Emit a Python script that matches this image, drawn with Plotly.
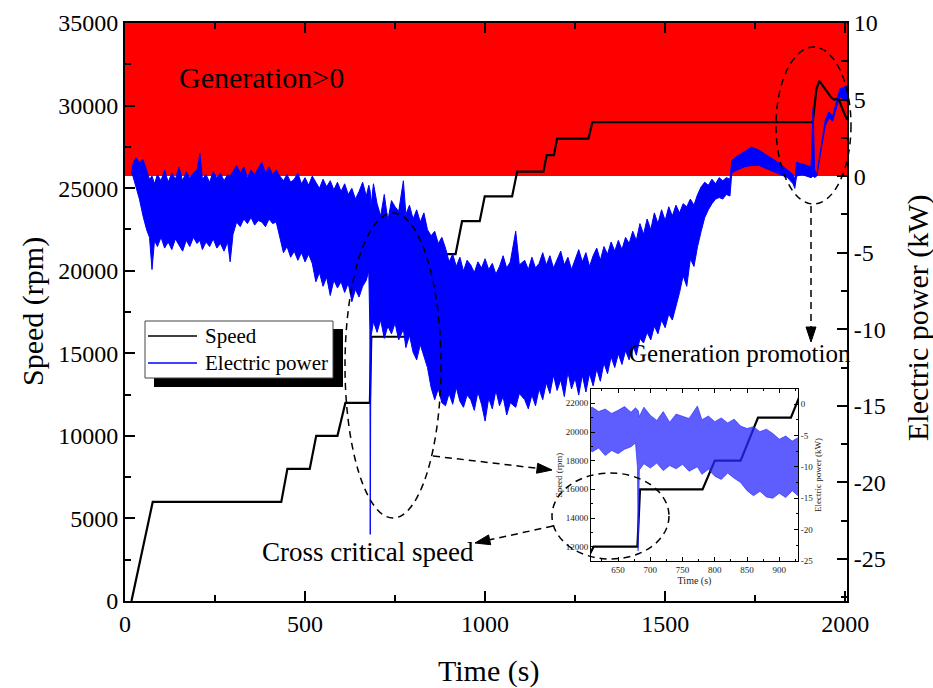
import plotly.graph_objects as go

# ---------------- data ----------------
speed_t = [18, 77, 434, 451, 513, 531, 590, 612, 680, 684, 781, 800, 840, 867, 918,
           936, 985, 999, 1075, 1089, 1162, 1171, 1191, 1200, 1287, 1298, 1910, 1920,
           1928, 1942, 1961, 1970, 1981, 1993, 2005]
speed_rpm = [0, 6000, 6000, 8000, 8000, 10000, 10000, 12000, 12000, 16000, 16000, 18000,
             18000, 21000, 21000, 23000, 23000, 24500, 24500, 26000, 26000, 27000, 27000,
             28000, 28000, 29000, 29000, 31000, 31500, 31050, 30500, 30350, 30450, 29750, 29150]

# electric power: upper / lower edge of the noisy band (kW)
power_t = [18, 22, 30, 40, 50, 60, 68, 75, 82, 90, 100, 110, 120, 130, 140, 150, 160, 170,
           180, 190, 200, 208, 215, 225, 235, 245, 255, 265, 275, 285, 292, 300, 310, 320,
           330, 340, 350, 360, 370, 380, 390, 400, 410, 420, 430, 440, 450, 460, 470, 480,
           490, 500, 510, 520, 530, 540, 550, 560, 570, 580, 590, 600, 610, 620, 630, 640,
           650, 660, 670, 677, 680, 681, 683, 690, 700, 710, 720, 730, 740, 750, 760, 773,
           780, 790, 800, 810, 820, 830, 840, 850, 860, 870, 880, 890, 900, 910, 920, 930,
           940, 950, 960, 970, 980, 990, 1000, 1010, 1020, 1030, 1040, 1050, 1060, 1070,
           1085, 1095, 1110, 1120, 1130, 1140, 1150, 1160, 1170, 1180, 1190, 1200, 1210,
           1220, 1230, 1240, 1250, 1260, 1270, 1280, 1290, 1300, 1310, 1320, 1330, 1340,
           1350, 1360, 1370, 1380, 1390, 1400, 1410, 1420, 1430, 1440, 1450, 1460, 1470,
           1480, 1490, 1500, 1510, 1520, 1530, 1540, 1550, 1560, 1570, 1580, 1590, 1600,
           1610, 1620, 1630, 1640, 1650, 1660, 1670, 1680, 1685, 1700, 1720, 1740, 1760,
           1780, 1800, 1820, 1840, 1855, 1860, 1865, 1880, 1895, 1905, 1911, 1915, 1921,
           1933, 1945, 1955, 1965, 1975, 1985, 1995, 2005]
power_hi = [0.2, 0.8, 1.2, 0.9, 1.1, 0.3, -0.2, 0.0, -0.5, 0.1, -0.3, 0.4, -0.4, 0.2, -0.2,
            0.6, -0.3, 0.3, -0.1, 0.2, 0.4, 1.5, -0.2, 0.1, -0.4, 0.3, -0.1, 0.2, -0.3, 0.1,
            0.0, 0.3, 0.7, 0.2, 0.6, -0.1, 0.4, 0.1, 0.5, 0.9, 0.2, 0.6, 0.1, 0.4, 0.0, -0.3,
            0.1, -0.4, -0.2, 0.2, -0.5, -0.1, -0.6, 0.0, -0.4, -0.8, -0.2, -0.7, -0.3, -0.9,
            -0.4, -1.0, -0.5, -1.2, -0.8, -1.5, -1.0, -0.4, -1.3, -0.6, -0.9, -1.0, -2.0,
            -0.5, -1.8, -2.6, -1.2, -2.9, -1.6, -2.0, -2.3, -0.3, -2.5, -1.9, -2.8, -2.2,
            -3.0, -2.4, -3.5, -3.9, -3.6, -4.4, -4.0, -4.7, -5.6, -5.1, -5.9, -5.3, -6.2,
            -5.5, -5.8, -6.3, -5.6, -6.0, -5.4, -6.1, -5.7, -6.4, -5.9, -5.2, -6.0, -5.6,
            -3.6, -5.8, -5.5, -6.1, -5.3, -6.0, -5.7, -5.0, -5.8, -5.2, -6.0, -5.5, -4.9,
            -5.8, -5.3, -6.1, -5.4, -4.8, -5.6, -5.0, -5.9, -5.2, -4.7, -5.5, -4.6, -5.1,
            -4.3, -4.9, -4.2, -4.8, -4.0, -4.4, -3.6, -4.2, -3.1, -3.8, -2.8, -3.5, -2.4,
            -3.1, -2.2, -2.9, -2.0, -2.6, -1.9, -2.4, -1.8, -2.0, -1.5, -1.9, -1.2, -0.7,
            -0.4, -0.6, -0.2, -0.5, -0.1, -0.3, -0.1, -0.2, 1.0, 1.3, 1.6, 1.9, 1.7, 1.4,
            1.1, 0.8, 0.4, 0.1, -0.2, 0.9, 0.8, 0.7, 0.6, 4.5, 0.4, 0.1, 2.0, 3.7, 4.2, 3.9,
            4.8, 5.7, 5.8, 5.9]
power_lo = [0.2, 0.0, -0.6, -1.5, -2.6, -3.5, -4.0, -6.1, -4.2, -4.6, -4.0, -4.7, -4.3, -4.8,
            -4.1, -4.5, -4.9, -4.2, -4.6, -4.0, -4.4, -4.2, -4.8, -4.3, -4.6, -4.1, -4.7,
            -4.4, -4.9, -4.3, -5.6, -3.8, -3.0, -3.3, -2.8, -3.1, -2.7, -3.2, -2.9, -3.0,
            -3.3, -2.8, -3.1, -3.0, -4.0, -5.0, -4.6, -5.3, -4.9, -5.5, -5.0, -5.6, -5.1,
            -5.7, -6.9, -6.3, -7.2, -6.6, -7.8, -6.8, -7.3, -6.9, -7.6, -7.0, -8.2, -7.4,
            -7.9, -7.2, -6.8, -6.2, -10.0, -23.4, -10.5, -9.5, -10.2, -9.4, -10.6, -9.8,
            -10.3, -9.6, -10.7, -10.0, -11.2, -10.4, -11.5, -12.0, -11.0, -11.8, -12.5,
            -13.8, -14.6, -13.9, -14.8, -15.0, -14.2, -14.9, -13.8, -14.7, -15.1, -14.3,
            -14.6, -15.3, -14.1, -14.9, -16.0, -14.5, -15.2, -14.0, -15.0, -14.4, -15.6,
            -14.8, -15.1, -14.2, -14.6, -15.2, -14.3, -15.0, -13.9, -14.6, -13.5, -14.2,
            -13.0, -14.0, -13.3, -14.4, -12.8, -13.9, -13.2, -14.3, -13.0, -14.1, -12.9,
            -13.7, -12.6, -13.4, -12.2, -12.9, -11.8, -12.5, -11.6, -12.3, -11.4, -12.0,
            -11.0, -11.7, -10.6, -10.9, -10.2, -10.7, -9.8, -10.3, -9.4, -9.9, -9.0, -9.4,
            -8.5, -7.6, -6.5, -7.2, -5.4, -5.9, -4.6, -3.6, -2.7, -2.2, -1.8, -1.5, -1.4,
            -1.5, -1.2, -1.3, 0.2, 0.4, 0.6, 0.7, 0.7, 0.5, 0.3, 0.1, -0.1, -0.5, -0.8, 0.0,
            0.1, 0.0, -0.1, 0.0, -0.1, 0.0, 1.7, 3.3, 3.8, 3.6, 4.4, 5.2, 5.0, 4.9]

x_ticks = [0, 500, 1000, 1500, 2000]
speed_ticks = [0, 5000, 10000, 15000, 20000, 25000, 30000, 35000]
power_ticks = [10, 5, 0, -5, -10, -15, -20, -25]
power_ticktext = ["10", "5", "0", "-5", "-10", "-15", "-20", "-25"]
inset_x_ticks = [650, 700, 750, 800, 850, 900]
inset_speed_ticks = [12000, 14000, 16000, 18000, 20000, 22000]
inset_power_ticks = [0, -5, -10, -15, -20, -25]
inset_power_ticktext = ["0", "-5", "-10", "-15", "-20", "-25"]

# ---------------- layout helpers (pixel -> paper) ----------------
W, H = 933, 688
L, R, T, B = 125, 847, 23, 601


def px(x):
    return (x - L) / (R - L)


def py(y):
    return (B - y) / (B - T)


FONT = "Liberation Serif"
band_x = power_t + power_t[::-1]
band_y = power_hi + power_lo[::-1]

fig = go.Figure()
# main plot
fig.add_trace(go.Scatter(x=band_x, y=band_y, yaxis="y2", mode="lines", fill="toself",
                         fillcolor="#0000ff", line=dict(color="#0000ff", width=1),
                         showlegend=False, hoverinfo="skip"))
fig.add_trace(go.Scatter(x=speed_t, y=speed_rpm, mode="lines",
                         line=dict(color="black", width=2.2), showlegend=False))
# inset
fig.add_trace(go.Scatter(x=band_x, y=band_y, xaxis="x3", yaxis="y4", mode="lines",
                         fill="toself", fillcolor="rgba(40,40,255,0.75)",
                         line=dict(color="rgba(40,40,255,0.8)", width=0.8),
                         showlegend=False, hoverinfo="skip"))
fig.add_trace(go.Scatter(x=speed_t, y=speed_rpm, xaxis="x3", yaxis="y3", mode="lines",
                         line=dict(color="black", width=2.2), showlegend=False))

tickfont = dict(family=FONT, size=24, color="black")
small = dict(family=FONT, size=9, color="#222")

shapes = [
    # generation region (power > 0)
    dict(type="rect", xref="paper", yref="y2", x0=0, x1=1, y0=0, y1=10,
         fillcolor="#ff0000", line=dict(width=0), layer="below"),
    # inset background
    dict(type="rect", xref="x3", yref="y3", x0=608, x1=929, y0=11000, y1=23000,
         fillcolor="white", line=dict(width=0), layer="below"),
    # legend shadow + box
    dict(type="rect", xref="paper", yref="paper", x0=px(154), x1=px(343), y0=py(387), y1=py(329),
         fillcolor="black", line=dict(width=0)),
    dict(type="rect", xref="paper", yref="paper", x0=px(145), x1=px(333), y0=py(378), y1=py(321),
         fillcolor="white", line=dict(color="#444", width=1)),
    dict(type="line", xref="paper", yref="paper", x0=px(148), x1=px(197), y0=py(336), y1=py(336),
         line=dict(color="black", width=1.5)),
    dict(type="line", xref="paper", yref="paper", x0=px(148), x1=px(197), y0=py(363), y1=py(363),
         line=dict(color="#0000ff", width=1.5)),
]

dash = dict(color="black", width=1.5, dash="7px,5px")
for (x0, x1, y0, y1) in [(345, 441, 518, 213), (776, 851, 204, 47), (552, 669, 559, 473)]:
    shapes.append(dict(type="circle", xref="paper", yref="paper", x0=px(x0), x1=px(x1),
                       y0=py(y0), y1=py(y1), line=dash))


def arrow(xs, ys, xe, ye, hl=15, hw=5):
    dx, dy = xe - xs, ye - ys
    n = (dx * dx + dy * dy) ** 0.5
    ux, uy = dx / n, dy / n
    bx, by = xe - hl * ux, ye - hl * uy
    p1 = (bx - hw * uy, by + hw * ux)
    p2 = (bx + hw * uy, by - hw * ux)
    out = [dict(type="line", xref="paper", yref="paper", x0=px(xs), y0=py(ys),
                x1=px(bx), y1=py(by), line=dash)]
    path = "M {} {} L {} {} L {} {} Z".format(px(xe), py(ye), px(p1[0]), py(p1[1]),
                                              px(p2[0]), py(p2[1]))
    out.append(dict(type="path", xref="paper", yref="paper", path=path,
                    fillcolor="black", line=dict(color="black", width=1)))
    return out


shapes += arrow(433, 456, 552, 470)
shapes += arrow(553, 526, 475, 543)
shapes += arrow(811, 206, 811, 342)

annotations = [
    dict(text="Generation>0", x=px(177), y=py(77), xanchor="left", yanchor="middle",
         font=dict(family=FONT, size=30, color="black")),
    dict(text="Generation promotion", x=px(627), y=py(353), xanchor="left", yanchor="middle",
         font=dict(family=FONT, size=25, color="black")),
    dict(text="Cross critical speed", x=px(260), y=py(552), xanchor="left", yanchor="middle",
         font=dict(family=FONT, size=27, color="black")),
    dict(text="Speed", x=px(203), y=py(336), xanchor="left", yanchor="middle",
         font=dict(family=FONT, size=21, color="black")),
    dict(text="Electric power", x=px(203), y=py(363), xanchor="left", yanchor="middle",
         font=dict(family=FONT, size=21, color="black")),
    dict(text="Time (s)", x=px(488), y=py(671), xanchor="center", yanchor="middle",
         font=dict(family=FONT, size=30, color="black")),
    dict(text="Speed (rpm)", x=px(33), y=py(312), xanchor="center", yanchor="middle",
         textangle=-90, font=dict(family=FONT, size=30, color="black")),
    dict(text="Electric power (kW)", x=px(918), y=py(318), xanchor="center", yanchor="middle",
         textangle=-90, font=dict(family=FONT, size=30, color="black")),
]
for a in annotations:
    a.update(xref="paper", yref="paper", showarrow=False)

axis_common = dict(showgrid=False, zeroline=False, showline=True, linecolor="black",
                   linewidth=2, ticks="inside", tickcolor="black", tickwidth=2, ticklen=10)

fig.update_layout(
    width=W, height=H,
    margin=dict(l=L, r=W - R, t=T, b=H - B, autoexpand=False),
    paper_bgcolor="white", plot_bgcolor="white",
    showlegend=False,
    xaxis=dict(range=[0, 2005], tickvals=x_ticks, tickfont=tickfont, mirror="ticks",
               tickformat="d",
               minor=dict(ticks="inside", dtick=250, tick0=0, ticklen=6, tickwidth=2,
                          tickcolor="black"), **axis_common),
    yaxis=dict(range=[0, 35000], tickvals=speed_ticks, tickfont=tickfont, tickformat="d",
               minor=dict(ticks="inside", dtick=2500, tick0=0, ticklen=6, tickwidth=2,
                          tickcolor="black"), **axis_common),
    yaxis2=dict(range=[-27.75, 10], overlaying="y", side="right", tickvals=power_ticks,
                ticktext=power_ticktext, tickfont=tickfont,
                minor=dict(ticks="inside", tickvals=[7.5, 2.5, -2.5, -7.5, -12.5, -17.5, -22.5, -27.5],
                           ticklen=6, tickwidth=2, tickcolor="black"), **axis_common),
    xaxis3=dict(domain=[px(591), px(798)], anchor="y3", range=[608, 929],
                tickvals=inset_x_ticks, tickfont=small, mirror="ticks", tickformat="d",
                title=dict(text="Time (s)", font=dict(family=FONT, size=10, color="#222"), standoff=2),
                showgrid=False, zeroline=False, showline=True, linecolor="black", linewidth=1,
                ticks="inside", ticklen=4, tickcolor="black",
                minor=dict(ticks="inside", dtick=25, tick0=600, ticklen=2, tickcolor="black")),
    yaxis3=dict(domain=[py(561), py(389)], anchor="x3", range=[11000, 23000],
                tickvals=inset_speed_ticks, tickfont=small, tickformat="d",
                title=dict(text="Speed (rpm)", font=dict(family=FONT, size=9, color="#222"), standoff=1),
                showgrid=False, zeroline=False, showline=True, linecolor="black", linewidth=1,
                ticks="inside", ticklen=4, tickcolor="black",
                minor=dict(ticks="inside", dtick=1000, tick0=0, ticklen=2, tickcolor="black")),
    yaxis4=dict(overlaying="y3", anchor="x3", side="right", range=[-25, 2.4],
                tickvals=inset_power_ticks, ticktext=inset_power_ticktext, tickfont=small,
                title=dict(text="Electric power (kW)", font=dict(family=FONT, size=9, color="#222"), standoff=2),
                showgrid=False, zeroline=False, showline=True, linecolor="black", linewidth=1,
                ticks="inside", ticklen=4, tickcolor="black",
                minor=dict(ticks="inside", dtick=2.5, tick0=0, ticklen=2, tickcolor="black")),
    shapes=shapes,
    annotations=annotations,
)

fig.write_html("out.html")
